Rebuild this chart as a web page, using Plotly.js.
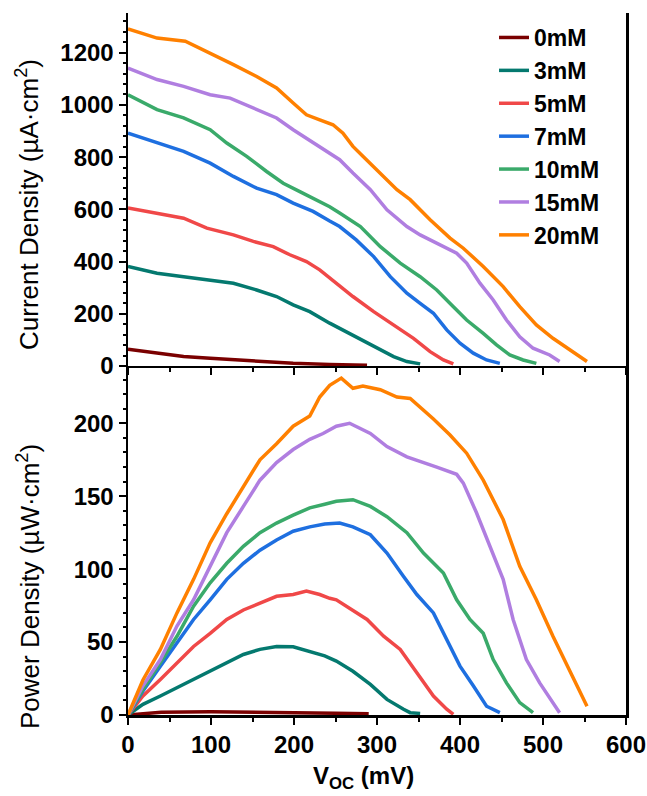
<!DOCTYPE html>
<html>
<head>
<meta charset="utf-8">
<script src="https://cdn.plot.ly/plotly-3.0.1.min.js"></script>
<style>
  html, body { margin: 0; padding: 0; background: #ffffff; }
  #chart { width: 647px; height: 796px; }
</style>
</head>
<body>
<div id="chart"></div>
<script>
// ---------- Data ----------
const seriesNames = ['0mM', '3mM', '5mM', '7mM', '10mM', '15mM', '20mM'];
const seriesColors = ['#7a0000', '#04796f', '#f04848', '#1e6fe0', '#3aaa6a', '#b07ee0', '#ff8000'];

// Current density (µA·cm²) vs V_OC (mV)
const vJ_0 = [0, 35, 67, 99, 147, 199, 243, 288];
const J_0  = [64, 49, 36, 30, 20, 10, 6, 3];
const vJ_3 = [0, 35, 67, 99, 127, 155, 179, 199, 219, 243, 255, 280, 300, 320, 336, 352];
const J_3  = [381, 355, 342, 330, 317, 291, 266, 234, 208, 164, 144, 100, 68, 36, 17, 8];
const vJ_5 = [0, 35, 67, 95, 127, 151, 175, 195, 215, 231, 251, 271, 296, 320, 344, 364, 380, 392];
const J_5  = [605, 586, 566, 528, 502, 477, 457, 426, 400, 368, 317, 266, 208, 157, 106, 55, 23, 8];
const vJ_7 = [0, 35, 67, 99, 127, 155, 179, 199, 223, 243, 255, 275, 296, 316, 336, 352, 368, 384, 400, 416, 432, 448];
const J_7  = [892, 854, 822, 777, 726, 681, 656, 624, 592, 555, 534, 483, 419, 342, 279, 240, 202, 138, 87, 49, 23, 10];
const vJ_10 = [0, 35, 67, 99, 119, 143, 167, 187, 207, 227, 243, 255, 280, 304, 328, 352, 372, 392, 408, 428, 444, 460, 476, 492];
const J_10  = [1039, 982, 950, 905, 854, 803, 745, 700, 668, 637, 610, 586, 534, 457, 394, 342, 291, 227, 176, 125, 81, 42, 23, 10];
const vJ_15 = [0, 35, 67, 99, 123, 155, 179, 199, 223, 243, 255, 271, 292, 312, 336, 352, 376, 396, 408, 424, 440, 456, 472, 488, 508, 520];
const J_15  = [1141, 1097, 1071, 1039, 1026, 982, 950, 905, 854, 812, 790, 739, 675, 598, 534, 502, 464, 432, 394, 317, 253, 176, 112, 68, 42, 17];
const vJ_20 = [0, 35, 69, 99, 127, 155, 179, 199, 215, 231, 247, 259, 271, 283, 304, 324, 340, 364, 388, 404, 428, 452, 472, 492, 512, 536, 553];
const J_20  = [1291, 1256, 1244, 1199, 1154, 1109, 1065, 1007, 962, 943, 924, 892, 841, 803, 739, 675, 637, 560, 490, 451, 381, 304, 227, 157, 106, 55, 17];

// Power density (µW·cm²) vs V_OC (mV)
const vP_0 = [0, 20, 40, 100, 180, 200, 250, 290];
const P_0  = [0, 1.2, 1.9, 2.2, 2.0, 1.5, 1.2, 0.9];
const vP_3 = [0, 18, 39, 59, 79, 99, 119, 139, 159, 179, 199, 219, 237, 251, 271, 292, 312, 332, 340, 352];
const P_3  = [0, 7.3, 13, 18.7, 24.4, 30, 36, 41.5, 45, 47, 46.8, 43.8, 40.5, 37, 30, 21, 10.7, 3.9, 1.6, 1.1];
const vP_5 = [0, 18, 39, 59, 79, 99, 119, 139, 159, 179, 199, 215, 231, 243, 251, 271, 288, 308, 328, 348, 368, 384, 392];
const P_5  = [0, 13, 24.4, 36, 47, 56, 65.5, 72, 77, 81.4, 82.6, 85, 82.6, 80, 79, 72, 65.5, 54, 45, 29, 13, 4, 0.5];
const vP_7 = [0, 18, 39, 59, 79, 99, 119, 139, 159, 179, 199, 219, 237, 255, 271, 292, 312, 332, 348, 368, 384, 400, 416, 432, 448];
const P_7  = [0, 16.4, 33.5, 49.5, 65.5, 79, 93, 104, 113, 120, 126, 129, 131, 131.6, 129, 123.6, 111, 95, 82.6, 70, 52, 33.5, 20, 6, 1.6];
const vP_10 = [0, 18, 39, 59, 79, 99, 119, 139, 159, 179, 199, 219, 237, 251, 271, 292, 312, 336, 356, 380, 396, 412, 428, 440, 456, 472, 488];
const P_10  = [0, 17.6, 36, 54, 74.6, 90.6, 104, 115.6, 125, 131.6, 137, 142, 144.5, 146.5, 147.6, 143, 136, 125, 111, 97.4, 79, 65.5, 56, 38, 22, 8.5, 1.6];
const vP_15 = [0, 18, 39, 59, 79, 99, 119, 139, 159, 179, 199, 219, 235, 251, 267, 292, 312, 336, 352, 372, 396, 404, 420, 436, 452, 464, 480, 496, 512, 520];
const P_15  = [0, 20, 38, 61, 79, 102, 125, 143, 161, 173, 182, 189, 193, 198, 200, 193, 184, 177, 174, 170, 165, 159, 138.5, 116, 93, 65.5, 38, 22, 8.5, 1.6];
const vP_20 = [0, 18, 39, 59, 79, 99, 119, 139, 159, 179, 199, 219, 231, 243, 257, 271, 283, 304, 324, 340, 352, 368, 388, 408, 428, 452, 472, 492, 512, 532, 553];
const P_20  = [0, 24, 45, 70, 93, 118, 138, 157, 175, 186, 198, 205, 218, 226, 231, 224, 225.6, 223, 218, 217, 211, 203, 192, 179.5, 161, 134, 102, 79, 54, 31, 6];

const xTickVals = [0, 100, 200, 300, 400, 500, 600];
const yJTickVals = [0, 200, 400, 600, 800, 1000, 1200];
const yPTickVals = [0, 50, 100, 150, 200];

// ---------- Build traces ----------
const currentX = [vJ_0, vJ_3, vJ_5, vJ_7, vJ_10, vJ_15, vJ_20];
const currentY = [J_0, J_3, J_5, J_7, J_10, J_15, J_20];
const powerX = [vP_0, vP_3, vP_5, vP_7, vP_10, vP_15, vP_20];
const powerY = [P_0, P_3, P_5, P_7, P_10, P_15, P_20];

const LW = 3.5;
const traces = [];
seriesNames.forEach((name, i) => {
  traces.push({
    x: currentX[i], y: currentY[i], xaxis: 'x2', yaxis: 'y',
    type: 'scatter', mode: 'lines', name: name,
    line: { color: seriesColors[i], width: LW }, showlegend: true
  });
});
seriesNames.forEach((name, i) => {
  traces.push({
    x: powerX[i], y: powerY[i], xaxis: 'x', yaxis: 'y2',
    type: 'scatter', mode: 'lines', name: name,
    line: { color: seriesColors[i], width: LW }, showlegend: false
  });
});

// ---------- Layout ----------
const FONT = '"Liberation Sans", Arial, sans-serif';
const tickFont = { family: FONT, size: 24, color: '#000000', weight: 'bold' };
const axisCommon = {
  showgrid: false, zeroline: false, showline: true,
  linecolor: '#000000', linewidth: 2.5,
  tickcolor: '#000000', tickwidth: 2, ticklen: 7,
  tickfont: tickFont
};
const xRange = [0, 600];
const yDomainSplit = 0.4972;

const layout = {
  width: 647, height: 796,
  paper_bgcolor: '#ffffff', plot_bgcolor: '#ffffff',
  margin: { l: 128, r: 21, t: 13, b: 81 },
  font: { family: FONT, color: '#000000' },
  showlegend: true,
  legend: {
    x: 0.735, y: 0.9957, xanchor: 'left', yanchor: 'top',
    bgcolor: 'rgba(0,0,0,0)', borderwidth: 0,
    font: { family: FONT, size: 23, color: '#000000', weight: 'bold' },
    itemwidth: 30, tracegroupgap: 0
  },
  // bottom panel x axis (with labels)
  xaxis: Object.assign({}, axisCommon, {
    anchor: 'y2', domain: [0, 1], range: xRange,
    tickmode: 'array', tickvals: xTickVals, ticks: 'outside',
    minor: { dtick: 50, ticks: 'outside', ticklen: 4, tickwidth: 2, tickcolor: '#000000' }
  }),
  // top panel x axis (bottom edge, ticks pointing down)
  xaxis2: Object.assign({}, axisCommon, {
    anchor: 'y', domain: [0, 1], range: xRange, matches: 'x',
    tickmode: 'array', tickvals: xTickVals, ticks: 'outside', showticklabels: false,
    minor: { dtick: 50, ticks: 'outside', ticklen: 4, tickwidth: 2, tickcolor: '#000000' }
  }),
  // top edge of top panel: inward ticks
  xaxis3: Object.assign({}, axisCommon, {
    anchor: 'y', overlaying: 'x2', side: 'top', range: xRange,
    tickmode: 'array', tickvals: xTickVals, ticks: 'inside', showticklabels: false,
    minor: { dtick: 50, ticks: 'inside', ticklen: 4, tickwidth: 2, tickcolor: '#000000' }
  }),
  // top edge of bottom panel: ticks pointing up (cross ticks at boundary)
  xaxis4: Object.assign({}, axisCommon, {
    anchor: 'y2', overlaying: 'x', side: 'top', range: xRange,
    tickmode: 'array', tickvals: xTickVals, ticks: 'outside', showticklabels: false,
    minor: { dtick: 50, ticks: 'outside', ticklen: 4, tickwidth: 2, tickcolor: '#000000' }
  }),
  yaxis: Object.assign({}, axisCommon, {
    anchor: 'x2', domain: [yDomainSplit, 1], range: [0, 1352],
    tickmode: 'array', tickvals: yJTickVals, ticks: 'outside', mirror: true,
    minor: { dtick: 40, ticks: 'outside', ticklen: 3, tickwidth: 2, tickcolor: '#000000' }
  }),
  yaxis2: Object.assign({}, axisCommon, {
    anchor: 'x', domain: [0, yDomainSplit], range: [0, 239.3],
    tickmode: 'array', tickvals: yPTickVals, ticks: 'outside', mirror: true,
    minor: { dtick: 10, ticks: 'outside', ticklen: 3, tickwidth: 2, tickcolor: '#000000' }
  }),
  annotations: [
    {
      text: 'Current Density (µA·cm<sup>2</sup>)', xref: 'paper', yref: 'paper',
      x: -0.2008, y: 0.7265, xanchor: 'center', yanchor: 'middle', textangle: -90,
      showarrow: false, font: { family: FONT, size: 26, color: '#000000' }
    },
    {
      text: 'Power Density (µW·cm<sup>2</sup>)', xref: 'paper', yref: 'paper',
      x: -0.2008, y: 0.1823, xanchor: 'center', yanchor: 'middle', textangle: -90,
      showarrow: false, font: { family: FONT, size: 26, color: '#000000' }
    },
    {
      text: 'V<sub>OC</sub> (mV)', xref: 'paper', yref: 'paper',
      x: 0.4719, y: -0.0897, xanchor: 'center', yanchor: 'middle',
      showarrow: false, font: { family: FONT, size: 24, color: '#000000', weight: 'bold' }
    }
  ]
};

Plotly.newPlot('chart', traces, layout, { displayModeBar: false, staticPlot: true });
</script>
</body>
</html>
